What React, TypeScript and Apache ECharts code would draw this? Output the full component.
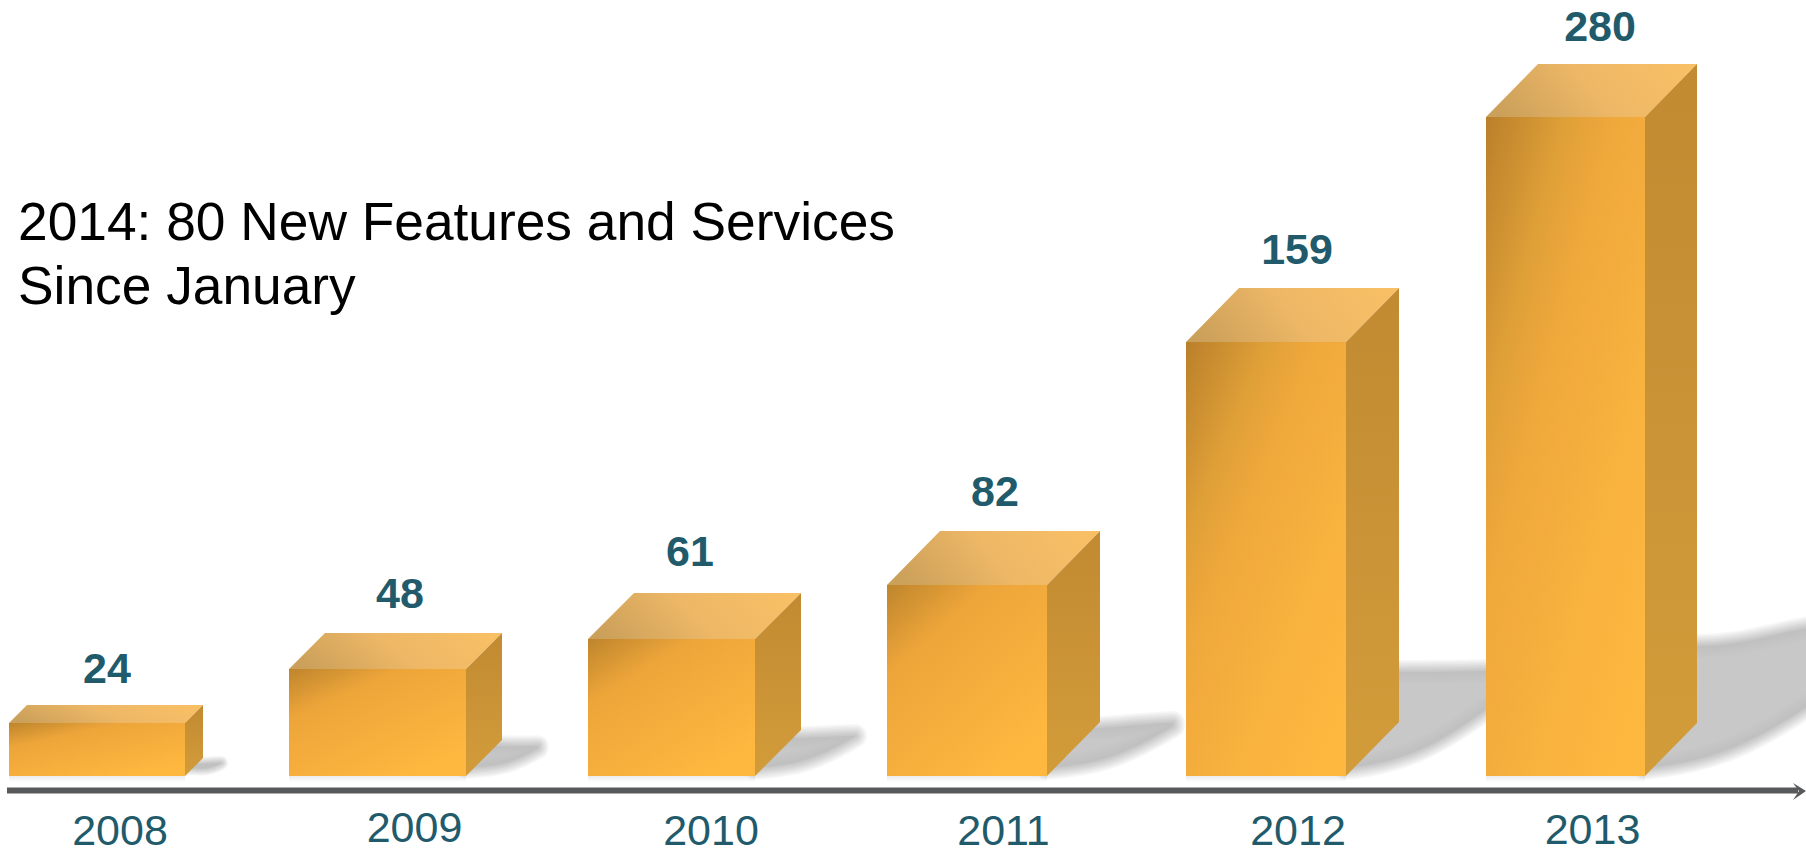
import React, { useEffect, useRef } from "react";
import * as echarts from "echarts";

const years = ["2008", "2009", "2010", "2011", "2012", "2013"];
// Printed values above each bar
const values = [24, 48, 61, 82, 159, 280];
// Drawn height of each bar, in the units of the tallest bar (280).
const drawnLevels = [22.5, 45.5, 58.2, 81.2, 184.4, 280];

const titleLines = ["2014: 80 New Features and Services", "Since January"];

// Per-box drawing style: offset from band centre, front width, depth, label placement, shadow
const boxStyle = [
  { off: -111, w: 176, dx: 18, dy: 18, lx: -13, ly: 55, sLen: 36, sBot: 13, sBack: 12, sTop: 13, blur: 0.6 },
  { off: -125.5, w: 177, dx: 36, dy: 36, lx: -14.5, ly: 76, sLen: 72, sBot: 28, sBack: 30, sTop: 30, blur: 0.9 },
  { off: -121, w: 167, dx: 46, dy: 46, lx: -19, ly: 88, sLen: 100, sBot: 40, sBack: 38, sTop: 40, blur: 1 },
  { off: -116.5, w: 160, dx: 53, dy: 54, lx: -8.5, ly: 94, sLen: 126, sBot: 50, sBack: 48, sTop: 53, blur: 1 },
  { off: -112, w: 160, dx: 53, dy: 54, lx: -1, ly: 93, sLen: 170, sBot: 90, sBack: 104, sTop: 106, blur: 1 },
  { off: -106.5, w: 159, dx: 52, dy: 53, lx: 7.5, ly: 91, sLen: 200, sBot: 96, sBack: 130, sTop: 152, blur: 1 },
];

const labelShift = [
  { top: 9, left: 0 },
  { top: 3, left: 0 },
  { top: 9, left: 4 },
  { top: 9, left: 0 },
  { top: 9, left: 0 },
  { top: 7, left: 0 },
];

// Stacked translucent outlines that fake a soft blur edge: outermost first
const blurWidths = [24, 21, 18, 15, 12, 9, 6, 3];
const blurAlphas = [0.108, 0.12, 0.137, 0.159, 0.189, 0.232, 0.303, 0.434];

const TEAL = "#215B6B";
const FONT = '"Liberation Sans", Arial, sans-serif';

function grad(x: number, y: number, x2: number, y2: number, stops: [number, string][]) {
  return new echarts.graphic.LinearGradient(x, y, x2, y2, stops.map(([offset, color]) => ({ offset, color })));
}

function renderBox(params: any, api: any) {
  const i = params.dataIndex;
  const s = boxStyle[i];
  const top = api.coord([i, api.value(1)]);
  const base = api.coord([i, 0]);
  const x0 = top[0] + s.off;
  const x1 = x0 + s.w;
  const yT = top[1];
  const yB = base[1];
  const backR = x1 + s.dx;
  const tipX = x1 + s.sLen;
  const yS = yB - 8;
  const shadowPath =
    `M ${x1} ${yS} ` +
    `C ${x1 + s.sLen * 0.35} ${yS - s.sBot * 0.08}, ${x1 + s.sLen * 0.55} ${yB - s.sBot * 0.32}, ${tipX} ${yB - s.sBot} ` +
    `L ${tipX} ${yB - s.sTop} ` +
    `C ${x1 + s.sLen * 0.7} ${yB - s.sTop * 0.98}, ${x1 + s.sLen * 0.55} ${yB - s.sBack}, ${backR} ${yB - s.sBack} ` +
    `L ${x1} ${yB - s.sBack} Z`;

  const steep = yB - yT > 300;
  const shadowLayers = blurWidths.map((lw, k) => ({
    type: "path",
    shape: { pathData: shadowPath },
    style: {
      fill: `rgba(192,192,192,${blurAlphas[k]})`,
      stroke: `rgba(192,192,192,${blurAlphas[k]})`,
      lineWidth: lw * s.blur,
      lineJoin: "round",
    },
    silent: true,
  }));
  return {
    type: "group",
    children: [
      ...shadowLayers,
      {
        type: "rect",
        shape: { x: x0, y: yB, width: s.w, height: 6 },
        style: { fill: grad(0, 0, 0, 1, [[0, "rgba(0,0,0,0.08)"], [1, "rgba(0,0,0,0)"]]) },
        silent: true,
      },
      {
        type: "polygon",
        shape: { points: [[x0, yT], [x0 + s.dx, yT - s.dy], [backR, yT - s.dy], [x1, yT]] },
        style: {
          fill: grad(0, 0.6, 1, 0.4, [[0, "#CBA05A"], [0.5, "#EDB766"], [1, "#F8BF65"]]),
        },
      },
      {
        type: "polygon",
        shape: { points: [[x1, yT], [backR, yT - s.dy], [backR, yB - s.dy], [x1, yB]] },
        style: {
          fill: grad(0, 0, 0, 1, [[0, "#C28A31"], [1, "#D39C3A"]]),
        },
      },
      {
        type: "rect",
        shape: { x: x0, y: yT, width: s.w, height: yB - yT },
        style: {
          fill: steep
            ? grad(0, 0, 0.9, 1, [[0, "#BA7F2A"], [0.25, "#DFA038"], [0.4, "#EFA83B"], [0.7, "#F8B23E"], [1, "#FFB83F"]])
            : grad(0, 0, 0.75, 1, [[0, "#BE852C"], [0.3, "#EDA53A"], [1, "#FFB83F"]]),
        },
      },
      {
        type: "text",
        x: top[0] + s.lx,
        y: yT - s.ly,
        style: {
          text: String(values[i]),
          font: `bold 43px ${FONT}`,
          fill: TEAL,
          align: "center",
          verticalAlign: "middle",
        },
      },
    ],
  };
}

export default function App() {
  const ref = useRef<HTMLDivElement>(null);
  useEffect(() => {
    document.body.style.margin = "0";
    const chart = echarts.init(ref.current!, undefined, { renderer: "svg" });
    const rich: Record<string, any> = {};
    years.forEach((y, i) => {
      rich["y" + i] = {
        fontFamily: FONT,
        fontSize: 43,
        color: TEAL,
        lineHeight: 30,
        padding: [labelShift[i].top, 0, 0, labelShift[i].left],
      };
    });
    chart.setOption({
      animation: false,
      backgroundColor: "#ffffff",
      grid: { left: 120, width: 1472.5, top: 117, height: 659, outerBoundsMode: "none" },
      xAxis: {
        type: "category",
        data: years,
        boundaryGap: false,
        axisLine: { show: false },
        axisTick: { show: false },
        axisLabel: {
          interval: 0,
          margin: 34,
          formatter: (v: string) => `{y${years.indexOf(v)}|${v}}`,
          rich,
        },
      },
      yAxis: { type: "value", min: 0, max: 280, show: false, splitLine: { show: false } },
      series: [
        {
          type: "custom",
          clip: false,
          renderItem: renderBox,
          data: drawnLevels.map((v, i) => [i, v]),
          encode: { x: 0, y: 1 },
        },
      ],
      graphic: [
        {
          type: "line",
          shape: { x1: 7, y1: 790.5, x2: 1798, y2: 790.5 },
          style: { stroke: "#58595B", lineWidth: 6 },
          z: 10,
        },
        {
          type: "polygon",
          shape: { points: [[1793, 783], [1806, 791], [1793, 800], [1799, 791]] },
          style: { fill: "#58595B" },
          z: 10,
        },
        ...titleLines.map((t, i) => ({
          type: "text",
          x: 18,
          y: 221 + i * 64,
          style: { text: t, font: `53.3px ${FONT}`, fill: "#000000", verticalAlign: "middle" },
          z: 10,
        })),
      ],
    });
    return () => chart.dispose();
  }, []);
  return <div ref={ref} style={{ width: 1806, height: 852, position: "absolute", left: 0, top: 0 }} />;
}
